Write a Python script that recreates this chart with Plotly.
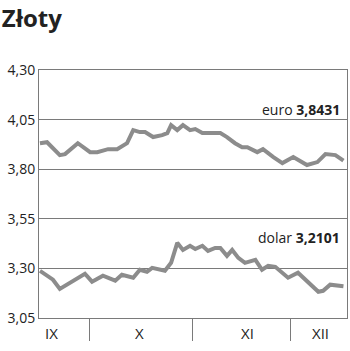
import plotly.graph_objects as go

# --- data (session index, value) ---
euro_x = [0, 1.5, 4.2, 5.3, 8.0, 10.6, 12.1, 14.4, 16.3, 18.4, 19.7, 21.1, 22.2, 23.9, 25.8,
          26.9, 27.7, 29.0, 30.2, 31.7, 32.8, 34.3, 36.4, 38.1, 39.5, 41.2, 42.7, 43.8,
          45.9, 47.1, 49.3, 51.2, 53.5, 56.4, 58.6, 60.3, 62.4, 64.1]
euro_y = [3.931, 3.936, 3.871, 3.876, 3.931, 3.886, 3.886, 3.901, 3.901, 3.931, 3.997, 3.987,
          3.987, 3.962, 3.972, 3.982, 4.022, 3.997, 4.022, 3.997, 4.002, 3.982, 3.982, 3.982,
          3.962, 3.931, 3.911, 3.911, 3.886, 3.901, 3.861, 3.831, 3.861, 3.821, 3.836, 3.876,
          3.871, 3.8431]

dolar_x = [0, 2.75, 4.2, 5.7, 9.5, 11.0, 13.3, 15.9, 17.3, 19.7, 21.1, 22.6, 23.7, 26.4, 27.7,
           29.0, 30.2, 31.7, 32.8, 34.3, 35.5, 37.0, 38.1, 39.5, 40.6, 41.9, 43.3, 45.5, 46.9,
           48.2, 49.7, 52.4, 54.5, 58.8, 59.8, 61.3, 62.8, 64.1]
dolar_y = [3.288, 3.243, 3.197, 3.218, 3.273, 3.233, 3.263, 3.238, 3.268, 3.253, 3.293, 3.283,
           3.303, 3.288, 3.328, 3.429, 3.393, 3.414, 3.398, 3.414, 3.388, 3.403, 3.403, 3.363,
           3.393, 3.353, 3.328, 3.343, 3.293, 3.313, 3.308, 3.253, 3.278, 3.182, 3.187, 3.218,
           3.213, 3.2101]

y_ticks = [3.05, 3.30, 3.55, 3.80, 4.05, 4.30]
y_tick_labels = ["3,05", "3,30", "3,55", "3,80", "4,05", "4,30"]

month_labels = ["IX", "X", "XI", "XII"]
month_label_pos = [2.5, 21.1, 43.8, 59.2]
month_bounds = [10.36, 32.3, 53.0]

title = "Złoty"
euro_label = ("euro", "3,8431")
dolar_label = ("dolar", "3,2101")

FONT = "Open Sans"
LINE = "#8c8c8c"
FRAME = "#7a7a7a"
TXT = "#222222"

fig = go.Figure()
fig.add_trace(go.Scatter(x=euro_x, y=euro_y, mode="lines",
                         line=dict(color=LINE, width=4), hoverinfo="skip"))
fig.add_trace(go.Scatter(x=dolar_x, y=dolar_y, mode="lines",
                         line=dict(color=LINE, width=4), hoverinfo="skip"))

annotations = []
for lab, pos in zip(month_labels, month_label_pos):
    annotations.append(dict(x=pos, y=-0.06, xref="x", yref="paper", text=lab,
                            showarrow=False, xanchor="center", yanchor="middle",
                            font=dict(family=FONT, size=15, color=TXT)))

annotations.append(dict(x=0.984, y=4.10, xref="paper", yref="y",
                        text=f"{euro_label[0]} <b>{euro_label[1]}</b>",
                        showarrow=False, xanchor="right", yanchor="middle",
                        font=dict(family=FONT, size=14, color=TXT)))
annotations.append(dict(x=0.984, y=3.455, xref="paper", yref="y",
                        text=f"{dolar_label[0]} <b>{dolar_label[1]}</b>",
                        showarrow=False, xanchor="right", yanchor="middle",
                        font=dict(family=FONT, size=14, color=TXT)))

fig.update_layout(
    width=350, height=351,
    margin=dict(l=39, r=3, t=70, b=33),
    paper_bgcolor="white", plot_bgcolor="white",
    showlegend=False,
    title=dict(text=f"<b>{title}</b>", x=0.005, xref="container", xanchor="left",
               y=0.97, yref="container", yanchor="top",
               font=dict(family=FONT, size=24, color=TXT)),
    annotations=annotations,
    xaxis=dict(range=[-0.2, 64.85], showgrid=False, zeroline=False,
               showline=True, linecolor=FRAME, linewidth=1, mirror=True,
               tickmode="array", tickvals=month_bounds, ticktext=["", "", ""],
               ticks="outside", ticklen=22, tickwidth=1, tickcolor=FRAME,
               showticklabels=False, fixedrange=True),
    yaxis=dict(range=[3.05, 4.30], showgrid=True, gridcolor=FRAME, gridwidth=1,
               zeroline=False, showline=True, linecolor=FRAME, linewidth=1, mirror=True,
               tickmode="array", tickvals=y_ticks, ticktext=y_tick_labels,
               ticks="", tickfont=dict(family=FONT, size=14, color=TXT),
               fixedrange=True),
)

fig.write_html("out.html", config={"displayModeBar": False})
